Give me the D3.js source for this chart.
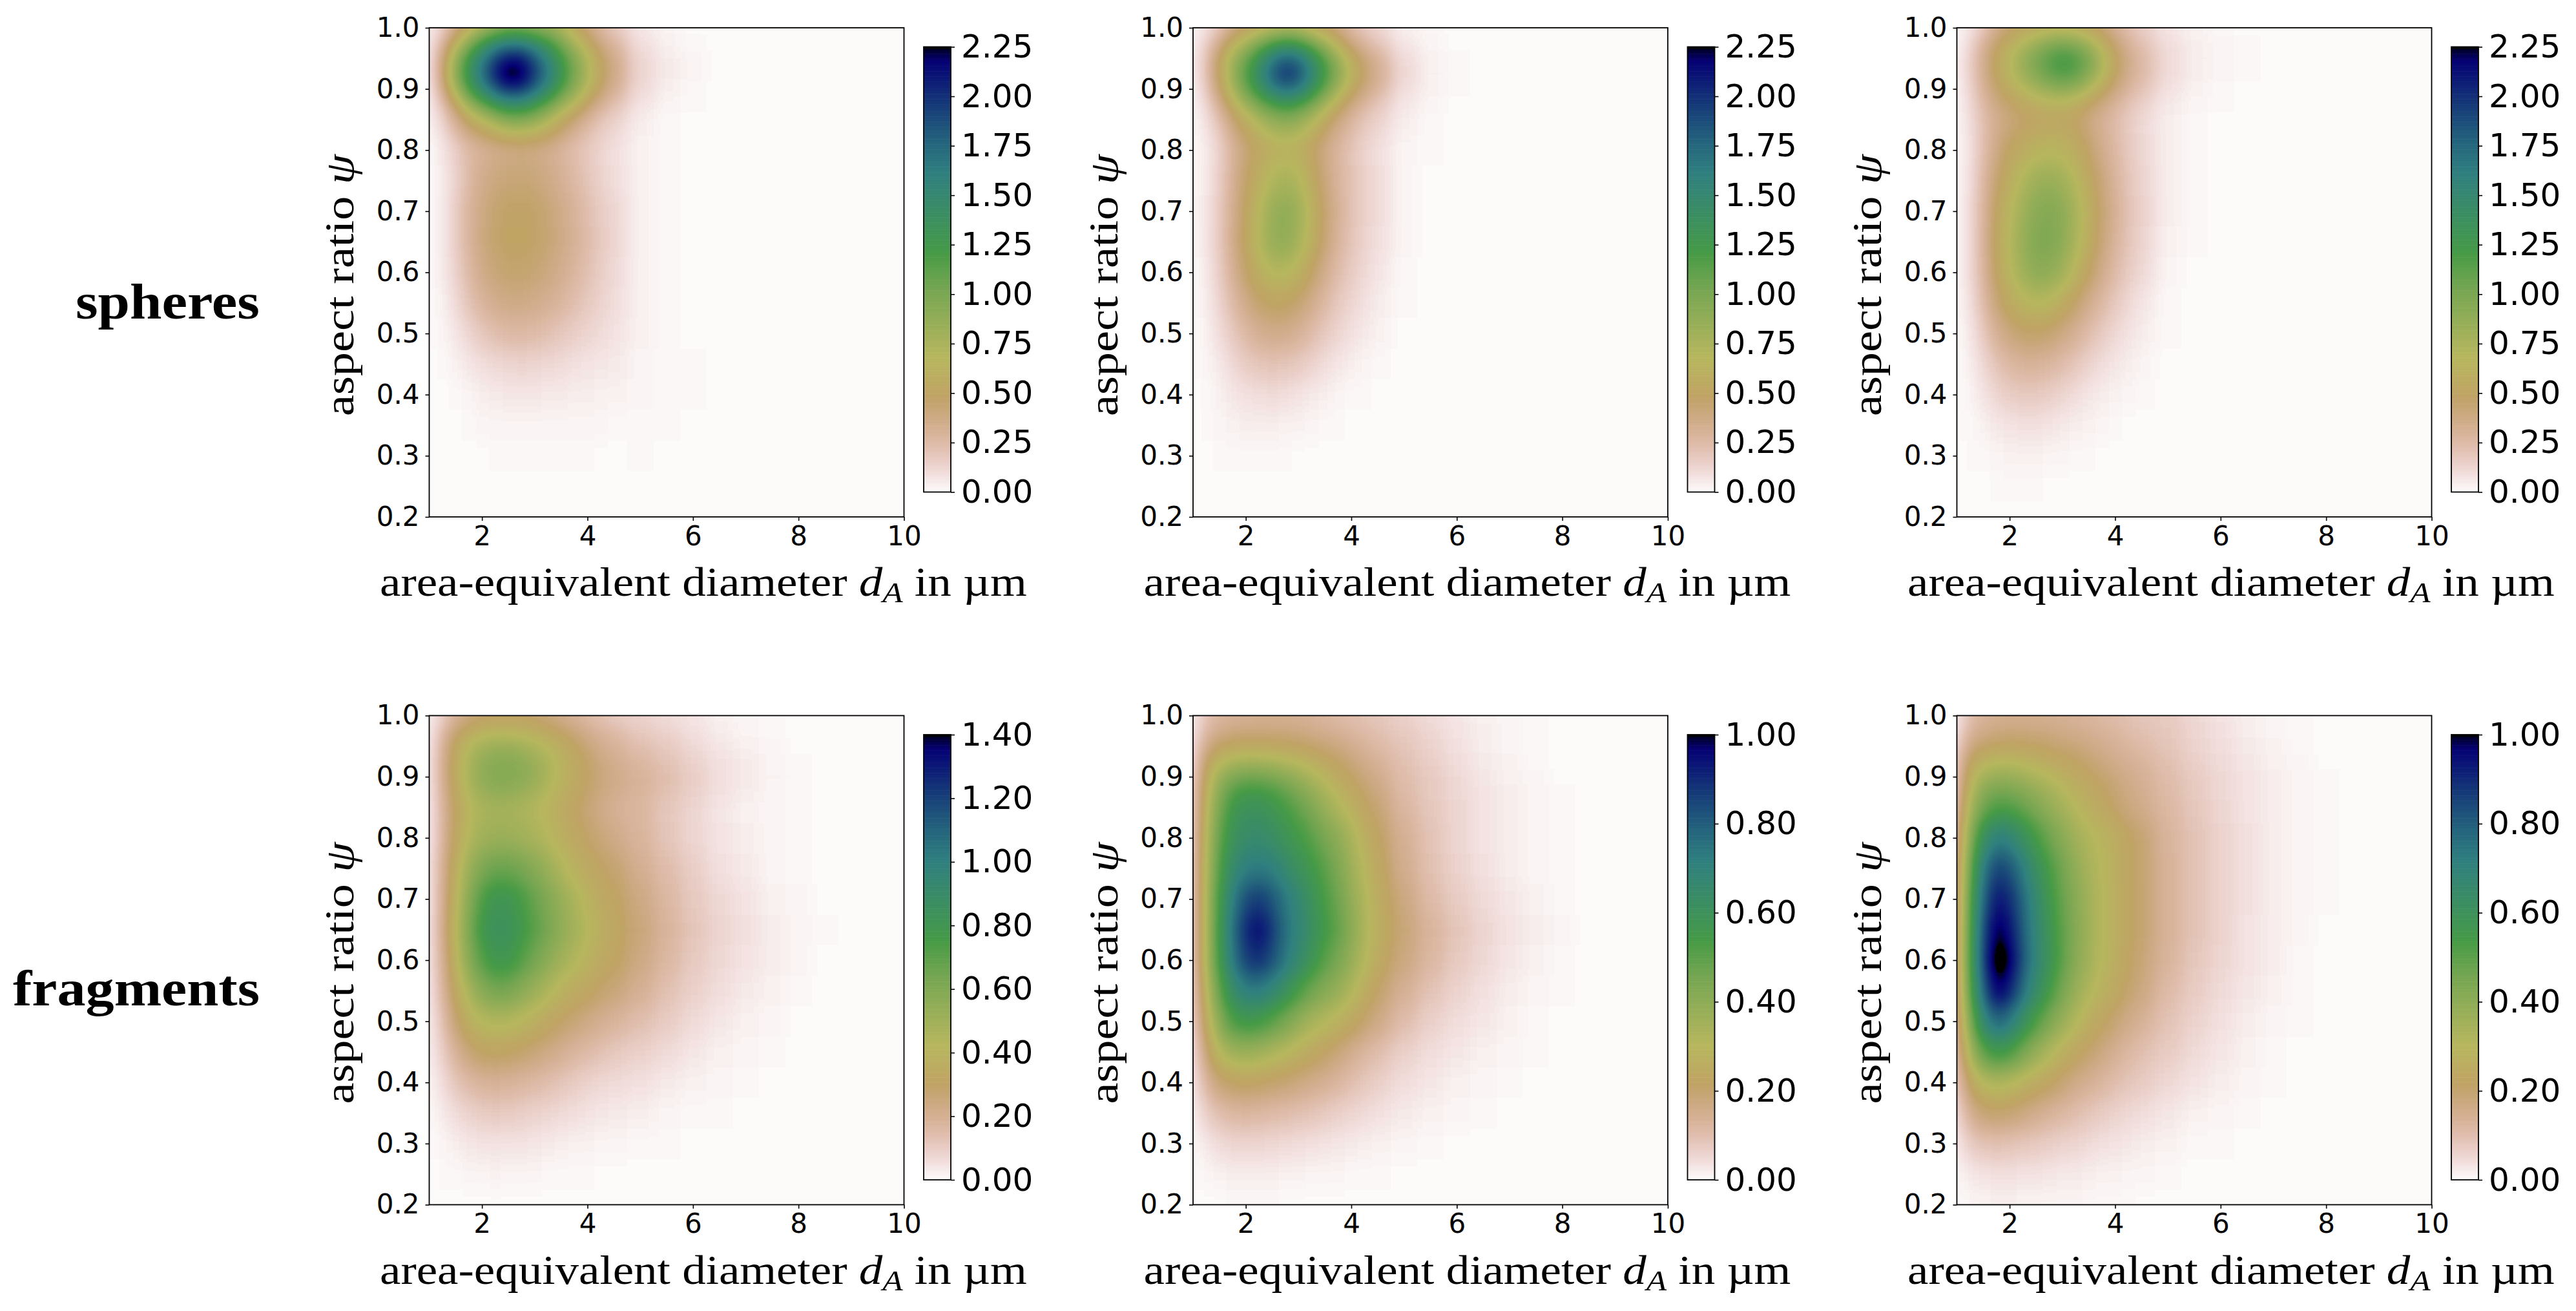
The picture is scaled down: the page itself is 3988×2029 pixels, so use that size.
<!DOCTYPE html>
<html>
<head>
<meta charset="utf-8">
<script src="https://cdn.jsdelivr.net/npm/d3@7"></script>
<style>
  html, body { margin: 0; background: #fff; }
  svg { display: block; }
</style>
</head>
<body>
<svg id="chart"></svg>
<script>
const WIDTH = 3988;
const HEIGHT = 2029;

// sample positions of the density grids
const diameters = [1, 1.125, 1.25, 1.5, 1.75, 2, 2.25, 2.5, 2.75, 3, 3.25, 3.5, 3.75, 4, 4.25, 4.5, 5, 5.5, 6, 6.5, 7, 7.5, 8, 8.5, 9];
const ratios = [1, 0.975, 0.95, 0.925, 0.9, 0.875, 0.85, 0.8, 0.75, 0.7, 0.65, 0.6, 0.55, 0.5, 0.45, 0.4, 0.35, 0.3, 0.25, 0.2];

// one row per ratio, one value per diameter, missing trailing values are 0
const spheresA = [
  [.02,.06,.12,.3,.5,.65,.78,.85,.85,.8,.78,.68,.5,.36,.24,.15,.055,.02,.005],
  [.03,.14,.3,.62,.95,1.3,1.55,1.68,1.68,1.5,1.27,1.02,.78,.55,.38,.25,.09,.035,.012],
  [.03,.2,.42,.85,1.27,1.62,1.95,2.12,2.12,1.85,1.55,1.25,.95,.72,.5,.33,.12,.05,.02,.003],
  [.03,.22,.46,.95,1.4,1.78,2.14,2.45,2.35,2,1.7,1.35,1.04,.75,.53,.35,.13,.055,.025,.004],
  [.025,.17,.38,.8,1.22,1.55,1.88,2.05,2.02,1.78,1.5,1.2,.9,.68,.47,.3,.11,.04,.015,.002],
  [.02,.1,.22,.5,.85,1.1,1.35,1.48,1.48,1.32,1.1,.85,.68,.46,.31,.2,.07,.025,.007],
  [.01,.06,.13,.3,.48,.6,.74,.86,.88,.8,.67,.52,.37,.26,.18,.12,.045,.012,.002],
  [.005,.03,.06,.15,.25,.3,.34,.37,.38,.37,.33,.28,.22,.17,.12,.08,.03,.008,.001],
  [.005,.025,.05,.13,.25,.34,.4,.42,.43,.41,.37,.31,.25,.19,.13,.09,.03,.008,.001],
  [.005,.025,.05,.15,.28,.38,.45,.48,.49,.47,.42,.36,.29,.22,.16,.11,.035,.009,.002],
  [.005,.025,.05,.15,.28,.39,.46,.49,.5,.47,.43,.37,.3,.23,.17,.11,.035,.01,.002],
  [.005,.02,.05,.13,.25,.36,.42,.45,.45,.43,.39,.33,.27,.21,.15,.1,.035,.01,.003],
  [.004,.015,.035,.1,.2,.28,.34,.37,.37,.35,.31,.27,.22,.17,.13,.09,.03,.01,.004,.001],
  [.003,.01,.02,.06,.12,.18,.22,.25,.25,.24,.21,.18,.15,.12,.1,.07,.028,.012,.005,.001],
  [.002,.005,.01,.03,.06,.09,.11,.12,.13,.12,.11,.1,.08,.07,.06,.05,.024,.012,.006,.002],
  [.001,.002,.004,.012,.025,.04,.05,.06,.06,.06,.055,.05,.045,.04,.035,.03,.018,.012,.006,.002],
  [0,.001,.002,.004,.01,.016,.02,.025,.025,.025,.025,.022,.02,.018,.016,.014,.012,.008,.005,.002],
  [0,0,.001,.002,.004,.005,.006,.007,.007,.007,.007,.007,.006,.006,.005,.005,.006,.005,.003,.001],
  [],
  [],
];

const spheresB = [
  [.01,.03,.06,.15,.3,.42,.5,.57,.62,.6,.5,.42,.32,.22,.15,.1,.035,.01,.003],
  [.02,.08,.16,.36,.6,.78,.98,1.2,1.3,1.25,1.02,.82,.58,.38,.27,.17,.06,.02,.005],
  [.02,.1,.2,.5,.8,1.05,1.35,1.65,1.85,1.75,1.45,1.15,.85,.58,.42,.28,.1,.035,.01,.002],
  [.02,.1,.22,.52,.85,1.18,1.5,1.85,2.08,1.95,1.6,1.28,.95,.66,.48,.32,.12,.045,.012,.002],
  [.015,.08,.18,.45,.76,1.08,1.35,1.62,1.78,1.68,1.4,1.1,.8,.56,.4,.26,.095,.035,.01],
  [.012,.05,.12,.32,.58,.82,1.02,1.2,1.3,1.22,1.02,.78,.56,.38,.27,.17,.065,.02,.005],
  [.01,.035,.08,.2,.4,.56,.7,.82,.88,.82,.68,.52,.37,.26,.18,.12,.04,.012,.003],
  [.006,.025,.05,.13,.28,.42,.52,.6,.63,.6,.5,.37,.27,.19,.13,.085,.025,.006,.001],
  [.006,.025,.055,.15,.3,.46,.6,.72,.78,.72,.56,.4,.28,.2,.14,.09,.025,.005],
  [.006,.03,.06,.16,.32,.5,.68,.84,.9,.82,.62,.44,.3,.2,.14,.09,.025,.005],
  [.006,.03,.06,.17,.33,.52,.7,.85,.88,.78,.6,.42,.28,.19,.13,.08,.02,.004],
  [.005,.025,.055,.15,.3,.46,.6,.7,.7,.62,.47,.33,.23,.16,.11,.065,.015,.002],
  [.004,.02,.04,.12,.24,.36,.46,.5,.5,.44,.34,.25,.17,.12,.08,.045,.009,.001],
  [.003,.013,.03,.09,.17,.25,.32,.35,.34,.3,.23,.17,.12,.08,.05,.03,.005],
  [.002,.008,.02,.055,.11,.16,.19,.2,.19,.17,.13,.095,.065,.045,.025,.015,.002],
  [.001,.005,.012,.03,.06,.085,.095,.1,.09,.075,.055,.04,.025,.015,.008,.004],
  [.001,.003,.006,.016,.03,.04,.04,.04,.035,.03,.02,.012,.008,.004,.002],
  [.001,.002,.004,.008,.012,.014,.012,.01,.008,.005,.003,.001],
  [0,.001,.001,.002,.003,.003,.002,.001],
  [],
];

const spheresC = [
  [.01,.03,.06,.15,.3,.42,.48,.52,.55,.55,.52,.47,.38,.28,.2,.13,.06,.025,.01,.003],
  [.015,.05,.12,.3,.48,.6,.72,.84,.95,1,.95,.8,.62,.42,.3,.2,.09,.04,.018,.006],
  [.02,.07,.15,.34,.52,.68,.85,1.02,1.18,1.27,1.2,1.02,.76,.52,.36,.24,.11,.05,.025,.01,.001],
  [.02,.07,.15,.34,.52,.68,.82,.98,1.12,1.22,1.15,.96,.72,.5,.35,.24,.1,.045,.02,.007],
  [.015,.06,.13,.3,.46,.58,.68,.78,.86,.9,.84,.7,.54,.39,.28,.19,.08,.035,.012,.003],
  [.012,.05,.11,.25,.38,.46,.52,.58,.62,.62,.57,.47,.37,.28,.2,.13,.055,.02,.006],
  [.01,.04,.09,.22,.33,.4,.45,.49,.52,.51,.46,.38,.3,.23,.16,.1,.04,.015,.005],
  [.008,.035,.08,.22,.38,.5,.58,.64,.67,.65,.57,.46,.34,.25,.17,.11,.04,.012,.004],
  [.008,.035,.09,.26,.44,.6,.72,.82,.85,.8,.69,.55,.4,.28,.19,.12,.04,.012,.003],
  [.008,.04,.1,.28,.5,.67,.81,.92,.96,.9,.76,.6,.43,.3,.2,.13,.04,.012,.003],
  [.008,.04,.1,.29,.52,.7,.85,.97,.98,.9,.74,.58,.41,.28,.19,.12,.035,.009,.002],
  [.008,.04,.1,.28,.5,.67,.81,.9,.89,.8,.64,.48,.34,.24,.16,.1,.025,.005],
  [.007,.03,.08,.24,.42,.56,.65,.7,.67,.57,.45,.34,.25,.17,.11,.065,.015,.002],
  [.005,.025,.06,.17,.31,.4,.46,.47,.44,.38,.3,.23,.16,.11,.07,.04,.006],
  [.004,.015,.04,.11,.2,.26,.29,.29,.27,.23,.18,.13,.09,.06,.04,.02,.003],
  [.003,.01,.025,.07,.12,.16,.17,.17,.15,.12,.09,.065,.045,.03,.017,.008,.001],
  [.002,.006,.015,.035,.06,.075,.08,.08,.07,.055,.04,.028,.018,.01,.005,.002],
  [.001,.003,.007,.015,.025,.03,.03,.028,.024,.018,.012,.007,.004,.002,.001],
  [0,.001,.002,.005,.008,.009,.008,.007,.005,.003,.002,.001],
  [],
];

const fragmentsA = [
  [.01,.04,.09,.17,.22,.25,.27,.27,.27,.25,.23,.2,.17,.14,.12,.09,.075,.055,.035,.02,.012,.006,.002],
  [.015,.08,.16,.28,.35,.39,.4,.4,.39,.37,.33,.29,.25,.21,.18,.15,.11,.08,.05,.028,.015,.007,.002],
  [.02,.1,.2,.34,.44,.5,.53,.53,.5,.46,.42,.37,.31,.26,.21,.18,.14,.105,.07,.04,.022,.01,.003],
  [.02,.11,.21,.36,.47,.55,.58,.59,.57,.52,.46,.4,.34,.29,.24,.2,.165,.125,.085,.05,.03,.015,.005,.001],
  [.02,.11,.21,.36,.48,.56,.6,.6,.58,.54,.47,.41,.35,.3,.26,.23,.19,.145,.1,.058,.035,.018,.006,.001],
  [.02,.1,.2,.34,.45,.52,.55,.55,.52,.48,.43,.38,.33,.28,.24,.21,.175,.13,.088,.048,.028,.014,.005],
  [.02,.09,.18,.31,.41,.46,.48,.47,.46,.43,.39,.35,.3,.26,.22,.19,.165,.115,.075,.04,.022,.01,.004],
  [.02,.09,.19,.33,.44,.5,.52,.52,.5,.47,.43,.38,.33,.29,.25,.22,.175,.12,.078,.044,.025,.012,.005,.001],
  [.02,.1,.21,.37,.52,.62,.67,.67,.63,.58,.52,.45,.39,.34,.3,.27,.205,.145,.095,.052,.03,.015,.006,.001],
  [.02,.1,.22,.4,.58,.74,.82,.81,.75,.67,.6,.53,.46,.4,.34,.3,.235,.165,.11,.068,.042,.022,.01,.003],
  [.02,.11,.23,.42,.62,.79,.86,.84,.78,.7,.63,.55,.49,.43,.37,.32,.25,.175,.12,.075,.05,.028,.014,.004],
  [.02,.1,.21,.4,.58,.72,.8,.79,.72,.63,.56,.5,.44,.39,.34,.3,.235,.165,.11,.07,.045,.025,.012,.003],
  [.02,.09,.18,.34,.48,.58,.64,.63,.57,.51,.45,.39,.35,.32,.28,.25,.195,.135,.09,.055,.033,.017,.007,.001],
  [.015,.07,.14,.27,.38,.43,.45,.44,.41,.37,.33,.29,.26,.23,.2,.175,.14,.1,.065,.038,.02,.01,.003],
  [.012,.05,.1,.19,.26,.3,.31,.3,.28,.25,.23,.2,.17,.15,.13,.11,.09,.06,.037,.021,.011,.005,.001],
  [.008,.03,.06,.12,.16,.18,.19,.18,.17,.155,.14,.12,.1,.085,.07,.06,.05,.03,.018,.01,.005,.002],
  [.004,.015,.03,.06,.085,.1,.105,.1,.095,.085,.075,.065,.055,.045,.035,.03,.025,.014,.008,.004,.002],
  [.002,.006,.013,.027,.04,.045,.047,.045,.042,.037,.032,.027,.022,.018,.014,.011,.009,.005,.003,.001],
  [.001,.002,.004,.009,.013,.015,.016,.015,.013,.011,.009,.007,.005,.004,.003,.002,.001],
  [0,.001,.001,.002,.003,.003,.003,.003,.002,.002,.001,.001],
];

const fragmentsB = [
  [.01,.05,.09,.115,.125,.13,.135,.135,.135,.13,.125,.115,.105,.095,.085,.075,.06,.042,.026,.014,.007,.003,.001],
  [.015,.07,.12,.15,.165,.17,.17,.17,.17,.165,.155,.145,.135,.12,.11,.095,.075,.052,.032,.018,.009,.004,.001],
  [.02,.11,.16,.21,.23,.235,.235,.23,.22,.21,.2,.185,.17,.15,.13,.11,.085,.06,.036,.02,.01,.005,.001],
  [.02,.14,.22,.3,.33,.35,.35,.34,.32,.3,.27,.24,.21,.18,.16,.13,.095,.068,.042,.024,.012,.006,.002],
  [.025,.16,.26,.37,.44,.46,.46,.44,.41,.37,.33,.29,.25,.21,.18,.15,.105,.075,.048,.028,.015,.008,.002],
  [.03,.17,.28,.42,.52,.56,.56,.53,.49,.44,.39,.34,.29,.24,.2,.165,.11,.078,.05,.03,.016,.008,.003],
  [.03,.18,.3,.45,.57,.61,.61,.58,.54,.49,.44,.38,.33,.28,.23,.185,.12,.082,.052,.03,.017,.008,.003],
  [.03,.19,.32,.49,.6,.65,.66,.63,.59,.55,.5,.45,.4,.34,.27,.21,.14,.09,.055,.033,.018,.009,.004,.001],
  [.035,.2,.33,.52,.66,.72,.74,.72,.66,.61,.56,.5,.44,.36,.3,.23,.15,.095,.06,.036,.02,.011,.005,.001],
  [.035,.2,.34,.55,.72,.84,.88,.82,.74,.67,.6,.53,.47,.39,.32,.25,.17,.11,.07,.044,.025,.014,.006,.002],
  [.035,.2,.34,.56,.76,.9,.97,.87,.76,.69,.62,.55,.49,.41,.33,.26,.185,.125,.085,.052,.032,.017,.007,.002],
  [.035,.2,.34,.55,.74,.86,.9,.83,.74,.66,.58,.5,.45,.38,.31,.24,.17,.115,.075,.048,.028,.015,.006,.002],
  [.03,.18,.3,.49,.64,.72,.73,.68,.61,.53,.46,.42,.38,.32,.26,.2,.14,.09,.06,.035,.02,.011,.004,.001],
  [.025,.15,.26,.41,.53,.56,.55,.5,.45,.39,.34,.31,.28,.24,.2,.16,.105,.065,.04,.025,.013,.006,.002],
  [.02,.11,.2,.31,.36,.37,.36,.33,.3,.27,.24,.21,.18,.15,.12,.1,.065,.042,.026,.015,.008,.003,.001],
  [.015,.07,.13,.19,.21,.22,.21,.2,.19,.17,.155,.14,.12,.1,.08,.065,.04,.026,.015,.008,.004,.001],
  [.008,.035,.07,.1,.115,.12,.115,.11,.105,.095,.085,.075,.065,.055,.045,.036,.022,.013,.007,.003,.001],
  [.003,.013,.028,.045,.052,.055,.053,.05,.046,.042,.037,.032,.027,.022,.018,.014,.008,.004,.002,.001],
  [.001,.004,.008,.014,.017,.018,.018,.016,.015,.013,.011,.009,.008,.006,.005,.004,.002,.001],
  [0,.001,.001,.002,.003,.003,.003,.003,.002,.002,.002,.001,.001],
];

const fragmentsC = [
  [.01,.06,.1,.125,.135,.14,.14,.14,.135,.13,.125,.12,.11,.1,.09,.08,.07,.05,.03,.016,.008,.003,.001],
  [.02,.09,.135,.16,.17,.175,.175,.17,.17,.16,.15,.14,.13,.12,.105,.095,.08,.055,.034,.019,.01,.004,.001],
  [.03,.13,.17,.2,.215,.22,.215,.21,.2,.19,.18,.165,.15,.135,.12,.105,.085,.06,.04,.023,.012,.005,.002],
  [.04,.18,.24,.29,.3,.3,.29,.27,.25,.235,.215,.195,.17,.155,.14,.125,.095,.065,.045,.026,.014,.007,.002],
  [.05,.2,.28,.35,.38,.38,.36,.33,.3,.275,.245,.22,.2,.175,.155,.135,.105,.075,.05,.03,.017,.009,.003],
  [.06,.22,.32,.42,.46,.45,.42,.39,.35,.31,.275,.25,.22,.19,.165,.145,.11,.078,.05,.03,.017,.009,.003],
  [.07,.24,.36,.48,.54,.53,.49,.44,.39,.35,.305,.27,.24,.205,.175,.155,.115,.08,.053,.032,.018,.009,.003],
  [.09,.28,.44,.62,.73,.7,.62,.54,.47,.41,.35,.32,.29,.26,.22,.19,.125,.09,.06,.036,.02,.01,.004],
  [.1,.31,.5,.74,.87,.83,.72,.62,.53,.46,.39,.34,.3,.26,.22,.19,.13,.09,.06,.036,.02,.01,.004],
  [.11,.33,.53,.8,.95,.9,.78,.66,.56,.48,.41,.35,.305,.265,.225,.19,.13,.09,.06,.035,.02,.01,.004],
  [.12,.34,.55,.85,1.02,.95,.8,.68,.58,.49,.42,.35,.305,.265,.225,.19,.13,.088,.058,.033,.018,.007,.002],
  [.12,.34,.56,.86,1.08,1,.81,.69,.59,.49,.41,.35,.3,.26,.215,.18,.125,.08,.052,.03,.016,.005,.001],
  [.11,.33,.54,.8,1,.92,.76,.64,.54,.45,.37,.32,.28,.24,.2,.165,.11,.07,.046,.025,.013,.004],
  [.1,.29,.46,.68,.8,.74,.62,.52,.44,.37,.31,.26,.22,.19,.16,.13,.09,.06,.038,.02,.01,.003],
  [.08,.23,.36,.5,.57,.53,.45,.38,.32,.27,.23,.2,.17,.14,.115,.095,.07,.045,.027,.014,.006,.002],
  [.06,.16,.24,.31,.33,.31,.28,.25,.22,.19,.16,.14,.12,.1,.085,.07,.05,.032,.018,.008,.003],
  [.03,.1,.15,.19,.2,.19,.17,.15,.13,.115,.1,.085,.07,.06,.05,.04,.026,.014,.007,.003],
  [.015,.05,.075,.09,.095,.09,.08,.075,.068,.06,.052,.045,.038,.03,.025,.019,.012,.006,.003,.001],
  [.005,.015,.025,.033,.036,.036,.033,.03,.027,.024,.021,.018,.015,.012,.01,.007,.004,.002,.001],
  [.001,.004,.007,.01,.012,.012,.011,.01,.009,.008,.007,.006,.005,.004,.003,.002,.001],
];

const densityGrids = [spheresA, spheresB, spheresC, fragmentsA, fragmentsB, fragmentsC];

const xTicks = [2, 4, 6, 8, 10];
const yTicks = [0.2, 0.3, 0.4, 0.5, 0.6, 0.7, 0.8, 0.9, 1.0];
const barTicksSpheres = [0, 0.25, 0.5, 0.75, 1, 1.25, 1.5, 1.75, 2, 2.25];
const barTicksFragmentsA = [0, 0.2, 0.4, 0.6, 0.8, 1, 1.2, 1.4];
const barTicksFragments = [0, 0.2, 0.4, 0.6, 0.8, 1];
const barTicks = [barTicksSpheres, barTicksSpheres, barTicksSpheres, barTicksFragmentsA, barTicksFragments, barTicksFragments];

const rowNames = ["spheres", "fragments"];

// gist_earth colormap segments
const earthR = [[0, 0], [0.2824, 0.1882], [0.4588, 0.2714], [0.549, 0.4719], [0.698, 0.7176], [0.7882, 0.7553], [1, 0.9922]];
const earthG = [[0, 0], [0.0275, 0], [0.1098, 0.1893], [0.1647, 0.3035], [0.2078, 0.3841], [0.2824, 0.502], [0.5216, 0.6397], [0.698, 0.7171], [0.7882, 0.6392], [0.7922, 0.6413], [0.8, 0.6447], [0.8078, 0.6481], [0.8157, 0.6549], [0.8667, 0.6991], [0.8745, 0.7103], [0.8824, 0.7216], [0.8902, 0.7323], [0.898, 0.743], [0.9412, 0.8275], [0.9569, 0.8635], [0.9647, 0.8816], [0.9961, 0.9733], [1, 0.9843]];
const earthB = [[0, 0], [0.0039, 0.1684], [0.0078, 0.2212], [0.0275, 0.4329], [0.0314, 0.4549], [0.2824, 0.5004], [0.4667, 0.2748], [0.5451, 0.3205], [0.7843, 0.3961], [0.8941, 0.6651], [1, 0.9843]];

const channel = (stops) =>
  d3.scaleLinear().domain(stops.map((s) => s[0])).range(stops.map((s) => s[1]));
const scaleR = channel(earthR);
const scaleG = channel(earthG);
const scaleB = channel(earthB);

// reversed, so t = 0 is the pale end
const earthColor = (t) =>
  d3.rgb(scaleR(1 - t) * 255, scaleG(1 - t) * 255, scaleB(1 - t) * 255).formatRgb();

const TICK_FONT = "'DejaVu Sans', sans-serif";
const LABEL_FONT = "'Liberation Serif', serif";

const PANEL_W = 735;
const PANEL_H = 757;
const BAR_W = 42;
const panelLeft = [664.5, 1847, 3029.5];
const panelTop = [43, 1107.5];
const BAR_OFFSET_X = 765.5;
const BAR_OFFSET_Y = 29.5;
const BAR_H = 689;
const BLEED = 80;
// peak cells read a bit over the colorbar top so the blur still reaches black
const HEADROOM = 1.15;

const svg = d3.select("#chart").attr("width", WIDTH).attr("height", HEIGHT).attr("viewBox", `0 0 ${WIDTH} ${HEIGHT}`);
const defs = svg.append("defs");

// values are drawn as gray cells, blurred, then pushed through the colormap
const filter = defs.append("filter")
  .attr("id", "smooth")
  .attr("x", "-20%").attr("y", "-20%").attr("width", "140%").attr("height", "140%")
  .attr("color-interpolation-filters", "sRGB");
filter.append("feGaussianBlur").attr("stdDeviation", "12 17");
const tableSteps = d3.range(256).map((i) => Math.min(1, (i / 255) * HEADROOM));
const transfer = filter.append("feComponentTransfer");
transfer.append("feFuncR").attr("type", "table").attr("tableValues", tableSteps.map((t) => scaleR(1 - t)).join(" "));
transfer.append("feFuncG").attr("type", "table").attr("tableValues", tableSteps.map((t) => scaleG(1 - t)).join(" "));
transfer.append("feFuncB").attr("type", "table").attr("tableValues", tableSteps.map((t) => scaleB(1 - t)).join(" "));

const styleAxis = (axis) => {
  axis.selectAll("text").style("font-family", TICK_FONT).attr("fill", "#000");
  axis.selectAll("line").attr("stroke", "#000").attr("stroke-width", 1.6);
  axis.select(".domain").remove();
};

// Computer Modern runs wider than Liberation Serif, stretch to the measured width
const fitWidth = (text, target, place) => {
  const w = text.node().getComputedTextLength();
  text.attr("transform", `${place} scale(${target / w}, 1)`);
};

const drawPanel = (index) => {
  const col = index % 3;
  const row = Math.floor(index / 3);
  const grid = densityGrids[index];
  const ticksBar = barTicks[index];
  const vmax = ticksBar[ticksBar.length - 1];

  const g = svg.append("g").attr("transform", `translate(${panelLeft[col]}, ${panelTop[row]})`);

  const scaleX = d3.scaleLinear().domain([1, 10]).range([0, PANEL_W]);
  const scaleY = d3.scaleLinear().domain([0.2, 1]).range([PANEL_H, 0]);
  const gray = d3.scaleLinear().domain([0, vmax * HEADROOM]).range([0, 255]).clamp(true);

  const clipId = `clip${index}`;
  defs.append("clipPath").attr("id", clipId)
    .append("rect").attr("width", PANEL_W).attr("height", PANEL_H);

  const cells = g.append("g").attr("clip-path", `url(#${clipId})`)
    .append("g").attr("filter", "url(#smooth)");

  cells.append("rect")
    .attr("x", -BLEED).attr("y", -BLEED)
    .attr("width", PANEL_W + 2 * BLEED).attr("height", PANEL_H + 2 * BLEED)
    .attr("fill", "rgb(0,0,0)");

  // cell edges sit halfway between samples, outer cells bleed past the frame
  const edgeX = (i) => i <= 0 ? -BLEED
    : i >= diameters.length ? PANEL_W + BLEED
    : scaleX((diameters[i - 1] + diameters[i]) / 2);
  const edgeY = (j) => j <= 0 ? -BLEED
    : j >= ratios.length ? PANEL_H + BLEED
    : scaleY((ratios[j - 1] + ratios[j]) / 2);

  grid.forEach((values, j) => {
    values.forEach((v, i) => {
      const c = Math.round(gray(v));
      cells.append("rect")
        .attr("x", Math.round(edgeX(i)))
        .attr("y", Math.round(edgeY(j)))
        .attr("width", Math.round(edgeX(i + 1)) - Math.round(edgeX(i)))
        .attr("height", Math.round(edgeY(j + 1)) - Math.round(edgeY(j)))
        .attr("fill", `rgb(${c},${c},${c})`)
        .attr("shape-rendering", "crispEdges");
    });
  });

  g.append("rect")
    .attr("width", PANEL_W).attr("height", PANEL_H)
    .attr("fill", "none").attr("stroke", "#000").attr("stroke-width", 1.8);

  const axisX = g.append("g").attr("transform", `translate(0, ${PANEL_H})`)
    .call(d3.axisBottom(scaleX).tickValues(xTicks).tickSize(6).tickPadding(8).tickFormat(d3.format("d")));
  axisX.selectAll("text").style("font-size", "42px");
  styleAxis(axisX);

  const axisY = g.append("g")
    .call(d3.axisLeft(scaleY).tickValues(yTicks).tickSize(6).tickPadding(9).tickFormat(d3.format(".1f")));
  axisY.selectAll("text").style("font-size", "42px");
  styleAxis(axisY);

  // axis labels
  const xLabel = g.append("text")
    .style("font-family", LABEL_FONT).style("font-size", "64px").attr("fill", "#000");
  xLabel.append("tspan").text("area-equivalent diameter ");
  xLabel.append("tspan").style("font-style", "italic").text("d");
  xLabel.append("tspan").style("font-style", "italic").style("font-size", "45px").attr("dy", 10).text("A");
  xLabel.append("tspan").attr("dy", -10).text(" in µm");
  fitWidth(xLabel, 1002, "translate(-76.5, 879)");

  const yLabel = g.append("text")
    .style("font-family", LABEL_FONT).style("font-size", "64px").attr("fill", "#000");
  yLabel.append("tspan").text("aspect ratio ");
  yLabel.append("tspan").style("font-style", "italic").text("ψ");
  fitWidth(yLabel, 405, "translate(-117.5, 601) rotate(-90)");

  // colorbar
  const bar = g.append("g").attr("transform", `translate(${BAR_OFFSET_X}, ${BAR_OFFSET_Y})`);
  const scaleBar = d3.scaleLinear().domain([0, vmax]).range([BAR_H, 0]);
  const barSteps = d3.range(256);
  bar.selectAll("rect.step")
    .data(barSteps)
    .join("rect")
    .attr("class", "step")
    .attr("x", 0)
    .attr("width", BAR_W)
    .attr("y", (d) => scaleBar(((d + 1) / 256) * vmax))
    .attr("height", BAR_H / 256 + 0.6)
    .attr("fill", (d) => earthColor(d / 255));
  bar.append("rect")
    .attr("width", BAR_W).attr("height", BAR_H)
    .attr("fill", "none").attr("stroke", "#000").attr("stroke-width", 1.8);
  const axisBar = bar.append("g").attr("transform", `translate(${BAR_W}, 0)`)
    .call(d3.axisRight(scaleBar).tickValues(ticksBar).tickSize(6).tickPadding(10).tickFormat(d3.format(".2f")));
  axisBar.selectAll("text").style("font-size", "50px");
  styleAxis(axisBar);
};

d3.range(6).forEach(drawPanel);

// row captions
const captions = [
  { y: 493, w: 285 },
  { y: 1556, w: 382 },
];
rowNames.forEach((name, i) => {
  const t = svg.append("text")
    .style("font-family", LABEL_FONT).style("font-size", "78px").style("font-weight", "bold")
    .attr("fill", "#000").text(name);
  fitWidth(t, captions[i].w, `translate(${402 - captions[i].w}, ${captions[i].y})`);
});
</script>
</body>
</html>
